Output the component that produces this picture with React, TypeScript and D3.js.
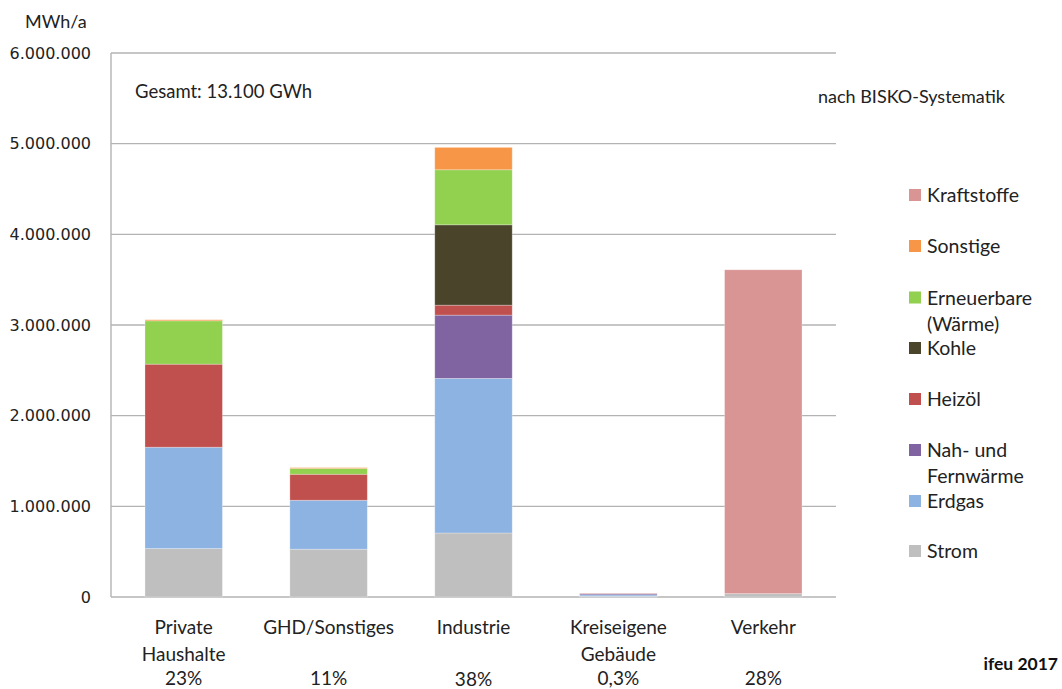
import React from "react";
import * as d3 from "d3";

// Sectors (x axis) and their share of total final energy
const categories = ["Private Haushalte", "GHD/Sonstiges", "Industrie", "Kreiseigene Gebäude", "Verkehr"];
const categoryLines = [["Private", "Haushalte"], ["GHD/Sonstiges"], ["Industrie"], ["Kreiseigene", "Gebäude"], ["Verkehr"]];
const shares = ["23%", "11%", "38%", "0,3%", "28%"];

// Energy carriers, stacked bottom to top (MWh/a per sector)
const carriers = ["Strom", "Erdgas", "Nah- und Fernwärme", "Heizöl", "Kohle", "Erneuerbare (Wärme)", "Sonstige", "Kraftstoffe"];
const strom = [534000, 527000, 706000, 8000, 37000];
const erdgas = [1118000, 540000, 1705000, 15000, 0];
const fernwaerme = [0, 0, 698000, 12000, 0];
const heizoel = [916000, 287000, 110000, 4000, 0];
const kohle = [0, 0, 886000, 0, 0];
const erneuerbare = [478000, 63000, 607000, 0, 0];
const sonstige = [12000, 10000, 247000, 0, 0];
const kraftstoffe = [0, 0, 0, 0, 3572000];

const carrierColors = ["#bfbfbf", "#8db3e2", "#8064a2", "#c0504d", "#4a452a", "#92d050", "#f79646", "#d99594"];

// Legend order (top to bottom) with line breaks
const legendItems = [
  { key: "Kraftstoffe", lines: ["Kraftstoffe"] },
  { key: "Sonstige", lines: ["Sonstige"] },
  { key: "Erneuerbare (Wärme)", lines: ["Erneuerbare", "(Wärme)"] },
  { key: "Kohle", lines: ["Kohle"] },
  { key: "Heizöl", lines: ["Heizöl"] },
  { key: "Nah- und Fernwärme", lines: ["Nah- und", "Fernwärme"] },
  { key: "Erdgas", lines: ["Erdgas"] },
  { key: "Strom", lines: ["Strom"] },
];

const yTicks = [0, 1000000, 2000000, 3000000, 4000000, 5000000, 6000000];

const W = 1062;
const H = 689;
const plot = { left: 111, right: 836, top: 53, bottom: 597 };
const textFont = "Lato, 'Open Sans', sans-serif";

export default function App() {
  const seriesValues = [strom, erdgas, fernwaerme, heizoel, kohle, erneuerbare, sonstige, kraftstoffe];
  const rows = categories.map((c, i) => {
    const r: Record<string, number | string> = { category: c };
    carriers.forEach((k, j) => (r[k] = seriesValues[j][i]));
    return r;
  });
  const stacked = d3.stack<Record<string, number | string>>().keys(carriers)(rows as any);

  const x = d3.scaleBand<string>().domain(categories).range([plot.left, plot.right]).paddingInner(0.4655).paddingOuter(0.2345);
  const y = d3.scaleLinear().domain([0, 6000000]).range([plot.bottom, plot.top]);
  const color = d3.scaleOrdinal<string, string>().domain(carriers).range(carrierColors);
  const fmt = (v: number) => (v === 0 ? "0" : d3.format(",")(v).replace(/,/g, "."));

  const legendY = [195, 246, 297.5, 348, 399, 450, 501, 551];

  return (
    <svg width={W} height={H} style={{ position: "absolute", left: 0, top: 0, background: "#fff" }}>
      {/* gridlines */}
      {yTicks.map((t) => (
        <line key={t} x1={plot.left} x2={plot.right} y1={y(t)} y2={y(t)} stroke="#b3b3b3" strokeWidth={1.4} />
      ))}
      <line x1={plot.left} x2={plot.left} y1={plot.top} y2={plot.bottom} stroke="#b3b3b3" strokeWidth={1.4} />

      {/* y tick labels */}
      {yTicks.map((t) => (
        <text key={t} x={91} y={y(t)} dy="0.36em" textAnchor="end" fontFamily="'DejaVu Sans', sans-serif" fontSize={16} fill="#222">
          {fmt(t)}
        </text>
      ))}
      <text x={25} y={28} fontFamily={textFont} fontSize={18} fill="#222">MWh/a</text>

      {/* stacked bars */}
      {stacked.map((layer) => (
        <g key={layer.key} fill={color(layer.key)}>
          {layer.map((d, i) => {
            const h = y(d[0]) - y(d[1]);
            if (h <= 0) return null;
            return (
              <rect key={i} x={x(categories[i])} width={x.bandwidth()} y={y(d[1])} height={h}
                stroke="#ffffff" strokeOpacity={0.35} strokeWidth={0.8} />
            );
          })}
        </g>
      ))}

      {/* annotations */}
      <text x={135} y={98} fontFamily={textFont} fontSize={18.5} fill="#222">Gesamt: 13.100 GWh</text>
      <text x={818} y={103} fontFamily={textFont} fontSize={18} fill="#222">nach BISKO-Systematik</text>

      {/* category labels and shares */}
      {categories.map((c, i) => {
        const cx = (x(c) as number) + x.bandwidth() / 2;
        return (
          <g key={c} fontFamily={textFont} fontSize={19} fill="#222" textAnchor="middle">
            {categoryLines[i].map((ln, k) => (
              <text key={k} x={cx} y={634 + k * 27}>{ln}</text>
            ))}
            <text x={cx} y={i === 2 ? 686 : 685}>{shares[i]}</text>
          </g>
        );
      })}

      {/* legend */}
      {legendItems.map((it, i) => (
        <g key={it.key}>
          <rect x={909} y={legendY[i] - 6} width={12} height={12} fill={color(it.key)} />
          {it.lines.map((ln, k) => (
            <text key={k} x={927} y={legendY[i] + k * 26} dy="0.36em" fontFamily={textFont} fontSize={19.5} fill="#222">{ln}</text>
          ))}
        </g>
      ))}

      <text x={1058} y={670} textAnchor="end" fontFamily={textFont} fontSize={17.5} fontWeight="bold" fill="#111">ifeu 2017</text>
    </svg>
  );
}
